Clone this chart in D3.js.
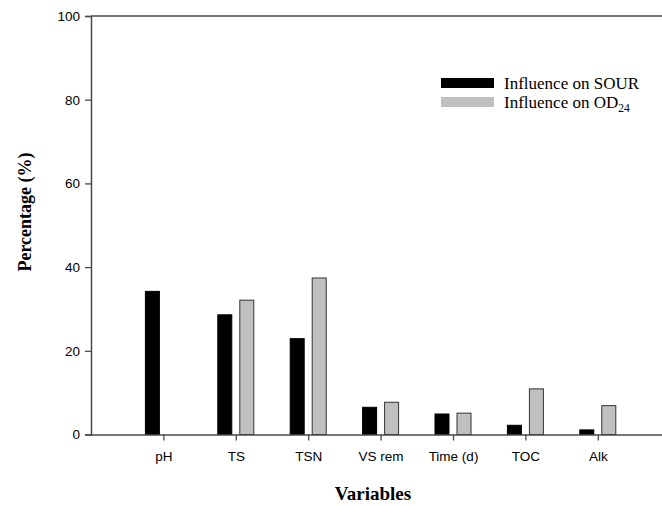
<!DOCTYPE html>
<html>
<head>
<meta charset="utf-8">
<script src="https://cdn.jsdelivr.net/npm/d3@7"></script>
<style>
  html, body { margin: 0; padding: 0; background: #fff; }
  svg { display: block; }
</style>
</head>
<body>
<svg id="chart" width="662" height="506"></svg>
<script>
// Relative influence of each process variable on SOUR and OD24
const categories = ["pH", "TS", "TSN", "VS rem", "Time (d)", "TOC", "Alk"];
const sourValues = [34.2, 28.6, 22.9, 6.5, 4.9, 2.2, 1.1];
const od24Values = [0, 32.1, 37.4, 7.7, 5.1, 10.9, 6.9];
const yTicks = [0, 20, 40, 60, 80, 100];

const svg = d3.select("#chart");
const W = 662, H = 506;

// Category positions 1..7 on a 0..8 linear axis (axis runs past the right edge)
const x = d3.scaleLinear().domain([0, 8]).range([91, 670.2]);
const y = d3.scaleLinear().domain([0, 100]).range([434.5, 16]);

const axisColor = "#4a4a4a";
const sansFont = "Arial, 'Liberation Sans', sans-serif";
const serifFont = "'Times New Roman', 'Liberation Serif', serif";

// Top frame line
svg.append("line")
  .attr("x1", x(0)).attr("x2", W)
  .attr("y1", y(100)).attr("y2", y(100))
  .attr("stroke", axisColor).attr("stroke-width", 1.5);

// Y axis
const yAxis = svg.append("g")
  .attr("transform", `translate(${x(0)},0)`)
  .call(d3.axisLeft(y).tickValues(yTicks).tickSize(6).tickPadding(5));
yAxis.select(".domain").attr("stroke", axisColor).attr("stroke-width", 1.5);
yAxis.selectAll(".tick line").attr("stroke", axisColor).attr("stroke-width", 1.3);
yAxis.selectAll(".tick text")
  .attr("font-family", sansFont).attr("font-size", 13.5).attr("fill", "#000");

// Bars
const barW = 14, gap = 4;
const bars = svg.append("g");
bars.selectAll("rect.sour")
  .data(sourValues)
  .join("rect")
  .attr("class", "sour")
  .attr("x", (d, i) => x(i + 1) - gap - barW)
  .attr("y", d => y(d))
  .attr("width", barW)
  .attr("height", d => y(0) - y(d))
  .attr("fill", "#000")
  .attr("stroke", "#000")
  .attr("stroke-width", 1);
bars.selectAll("rect.od")
  .data(od24Values)
  .join("rect")
  .attr("class", "od")
  .attr("x", (d, i) => x(i + 1) + gap)
  .attr("y", d => y(d))
  .attr("width", barW)
  .attr("height", d => y(0) - y(d))
  .attr("fill", "#c0c0c0")
  .attr("stroke", d => d > 0 ? "#333" : "none")
  .attr("stroke-width", 1);

// X axis
const xAxis = svg.append("g")
  .attr("transform", `translate(0,${y(0)})`)
  .call(d3.axisBottom(x)
    .tickValues(d3.range(1, categories.length + 1))
    .tickFormat(d => categories[d - 1])
    .tickSize(6).tickPadding(11)
    .tickSizeOuter(0));
xAxis.select(".domain").attr("stroke", axisColor).attr("stroke-width", 1.5);
xAxis.selectAll(".tick line").attr("stroke", axisColor).attr("stroke-width", 1.3);
xAxis.selectAll(".tick text")
  .attr("font-family", sansFont).attr("font-size", 13.5).attr("fill", "#000");

// Axis titles
svg.append("text")
  .attr("x", 373).attr("y", 500)
  .attr("text-anchor", "middle")
  .attr("font-family", serifFont).attr("font-weight", "bold").attr("font-size", 19)
  .text("Variables");

svg.append("text")
  .attr("transform", `translate(31,212) rotate(-90)`)
  .attr("text-anchor", "middle")
  .attr("font-family", serifFont).attr("font-weight", "bold").attr("font-size", 18)
  .text("Percentage (%)");

// Legend
const legend = svg.append("g").attr("transform", "translate(441,78)");
legend.append("rect").attr("x", 0).attr("y", 0).attr("width", 53).attr("height", 10).attr("fill", "#000");
legend.append("text").attr("x", 63).attr("y", 11)
  .attr("font-family", serifFont).attr("font-size", 17).text("Influence on SOUR");
legend.append("rect").attr("x", 0).attr("y", 19).attr("width", 53).attr("height", 10).attr("fill", "#c0c0c0");
const t2 = legend.append("text").attr("x", 63).attr("y", 30)
  .attr("font-family", serifFont).attr("font-size", 17);
t2.append("tspan").text("Influence on OD");
t2.append("tspan").attr("dy", 4).attr("font-size", 11.5).text("24");
</script>
</body>
</html>
